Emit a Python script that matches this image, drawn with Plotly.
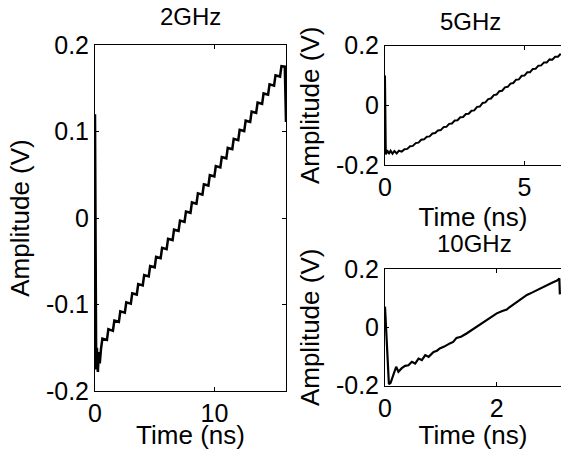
import plotly.graph_objects as go

# ---- data ----
t_2g = [0, 0.04, 0.1, 0.16, 0.24, 0.32, 0.4,
        0.5, 0.62, 1.0, 1.12, 1.5, 1.62, 2.0, 2.12, 2.5, 2.62, 3.0, 3.12, 3.5, 3.62,
        4.0, 4.12, 4.5, 4.62, 5.0, 5.12, 5.5, 5.62, 6.0, 6.12, 6.5, 6.62, 7.0, 7.12,
        7.5, 7.62, 8.0, 8.12, 8.5, 8.62, 9.0, 9.12, 9.5, 9.62, 10.0, 10.12, 10.5, 10.62,
        11.0, 11.12, 11.5, 11.62, 12.0, 12.12, 12.5, 12.62, 13.0, 13.12, 13.5, 13.62,
        14.0, 14.12, 14.5, 14.62, 15.0, 15.12, 15.5, 15.62, 15.9, 16.0]
v_2g = [0.12, -0.145, -0.175, -0.15, -0.178, -0.155, -0.168,
        -0.1515, -0.1395, -0.141, -0.1285, -0.1305, -0.1185, -0.120, -0.108, -0.1095, -0.0975,
        -0.099, -0.087, -0.0885, -0.0765, -0.078, -0.066, -0.0675, -0.0555, -0.057, -0.045,
        -0.0465, -0.0345, -0.036, -0.024, -0.0255, -0.0135, -0.015, -0.003, -0.0045, 0.0075,
        0.006, 0.018, 0.0165, 0.0285, 0.027, 0.039, 0.0375, 0.0495, 0.048, 0.060,
        0.0585, 0.0705, 0.069, 0.081, 0.0795, 0.0915, 0.090, 0.102, 0.1005, 0.1125,
        0.111, 0.123, 0.1215, 0.1335, 0.132, 0.144, 0.1425, 0.1545, 0.153, 0.165,
        0.1635, 0.1755, 0.175, 0.111]

t_5g = [0, 0.03, 0.08, 0.14, 0.2, 0.27, 0.34, 0.42, 0.5,
        0.6, 0.7, 0.8, 0.9, 1.0, 1.1, 1.2, 1.3, 1.4, 1.5, 1.6, 1.7, 1.8, 1.9, 2.0,
        2.1, 2.2, 2.3, 2.4, 2.5, 2.6, 2.7, 2.8, 2.9, 3.0, 3.1, 3.2, 3.3, 3.4, 3.5,
        3.6, 3.7, 3.8, 3.9, 4.0, 4.1, 4.2, 4.3, 4.4, 4.5, 4.6, 4.7, 4.8, 4.9, 5.0,
        5.1, 5.2, 5.3, 5.4, 5.5, 5.6, 5.7, 5.8, 5.9, 6.0, 6.1, 6.2, 6.3]
v_5g = [0.100, -0.165, -0.150, -0.163, -0.152, -0.162, -0.153, -0.161, -0.152,
        -0.155, -0.147, -0.146, -0.137, -0.136, -0.1265, -0.125, -0.1155, -0.114, -0.105,
        -0.104, -0.0945, -0.093, -0.084, -0.083, -0.073, -0.072, -0.062, -0.061, -0.051,
        -0.050, -0.040, -0.039, -0.029, -0.028, -0.018, -0.017, -0.005, -0.004, 0.008,
        0.010, 0.021, 0.023, 0.0345, 0.036, 0.0475, 0.049, 0.0605, 0.062, 0.073,
        0.075, 0.086, 0.087, 0.099, 0.100, 0.111, 0.111, 0.122, 0.123, 0.133,
        0.134, 0.144, 0.144, 0.154, 0.153, 0.163, 0.163, 0.173]

t_10g = [0, 0.07, 0.1, 0.15, 0.2, 0.24, 0.3, 0.36, 0.42, 0.48, 0.54, 0.6, 0.66, 0.72,
         0.78, 0.87, 0.93, 0.98, 1.06, 1.16, 1.22, 1.28, 1.36, 1.46, 1.55, 1.64, 1.73,
         1.82, 1.91, 2.0, 2.1, 2.18, 2.22, 2.36, 2.45, 2.54, 2.63, 2.72, 2.81, 2.9, 2.98,
         3.07, 3.1, 3.12, 3.13]
v_10g = [0.071, -0.195, -0.19, -0.165, -0.135, -0.152, -0.140, -0.132, -0.130, -0.118,
         -0.124, -0.107, -0.112, -0.095, -0.101, -0.084, -0.080, -0.072, -0.066, -0.055,
         -0.050, -0.036, -0.032, -0.021, -0.010, 0.002, 0.012, 0.025, 0.036, 0.048, 0.056,
         0.061, 0.068, 0.088, 0.099, 0.111, 0.119, 0.128, 0.136, 0.145, 0.152, 0.160,
         0.163, 0.168, 0.113]

titles = ["2GHz", "5GHz", "10GHz"]
x_label = "Time (ns)"
y_label = "Amplitude (V)"
yticks_left = [-0.2, -0.1, 0, 0.1, 0.2]
yticks_left_text = ["-0.2", "-0.1", "0", "0.1", "0.2"]
yticks_right = [-0.2, 0, 0.2]
yticks_right_text = ["-0.2", "0", "0.2"]

W, H = 561, 450
FONT = "Liberation Sans, Arial, sans-serif"

fig = go.Figure()
fig.add_trace(go.Scatter(x=t_2g, y=v_2g, mode="lines", line=dict(color="black", width=2.5),
                         xaxis="x", yaxis="y", showlegend=False))
fig.add_trace(go.Scatter(x=t_5g, y=v_5g, mode="lines", line=dict(color="black", width=2),
                         xaxis="x2", yaxis="y2", showlegend=False))
fig.add_trace(go.Scatter(x=t_10g, y=v_10g, mode="lines", line=dict(color="black", width=2.2),
                         xaxis="x3", yaxis="y3", showlegend=False))

def px_x(a, b):
    return [a / W, b / W]

def px_y(top, bottom):
    return [(H - bottom) / H, (H - top) / H]

common = dict(showgrid=False, zeroline=False, showline=True, linecolor="black", linewidth=1,
              ticks="inside", ticklen=4, tickcolor="black", tickwidth=1, automargin=False,
              tickfont=dict(family=FONT, size=25, color="black"))

fig.update_layout(
    width=W, height=H, margin=dict(l=0, r=0, t=0, b=0, autoexpand=False),
    paper_bgcolor="white", plot_bgcolor="white",
    font=dict(family=FONT, color="black"),
    xaxis=dict(domain=px_x(95, 286), range=[0, 16.0], anchor="y", mirror="ticks",
               tickvals=[0, 10], ticktext=["0", "10"],
               title=dict(text=x_label, font=dict(size=26), standoff=7), **common),
    yaxis=dict(domain=px_y(45, 391), range=[-0.2, 0.2], anchor="x", mirror="ticks",
               tickvals=yticks_left, ticktext=yticks_left_text,
               title=dict(text=y_label, font=dict(size=26), standoff=8), **common),
    xaxis2=dict(domain=px_x(385, 561), range=[0, 6.31], anchor="y2", mirror="ticks",
                tickvals=[0, 5], ticktext=["0", "5"],
                title=dict(text=x_label, font=dict(size=26), standoff=7), **common),
    yaxis2=dict(domain=px_y(45.7, 165), range=[-0.2, 0.2], anchor="x2", mirror=False,
                tickvals=yticks_right, ticktext=yticks_right_text,
                title=dict(text=y_label, font=dict(size=26), standoff=8), **common),
    xaxis3=dict(domain=px_x(385, 561), range=[0, 3.15], anchor="y3", mirror="ticks",
                tickvals=[0, 2], ticktext=["0", "2"],
                title=dict(text=x_label, font=dict(size=26), standoff=7), **common),
    yaxis3=dict(domain=px_y(269, 385.7), range=[-0.2, 0.2], anchor="x3", mirror=False,
                tickvals=yticks_right, ticktext=yticks_right_text,
                title=dict(text=y_label, font=dict(size=26), standoff=8), **common),
)

title_pos = [(190, 16), (470, 22), (474, 243)]
for txt, (cx, cy) in zip(titles, title_pos):
    fig.add_annotation(text=txt, x=cx / W, y=(H - cy) / H, xref="paper", yref="paper",
                       xanchor="center", yanchor="middle", showarrow=False,
                       font=dict(family=FONT, size=24, color="black"))

fig.write_html("out.html", config={"displayModeBar": False},
               post_script="document.body.style.margin='0';document.body.style.overflow='hidden';")
